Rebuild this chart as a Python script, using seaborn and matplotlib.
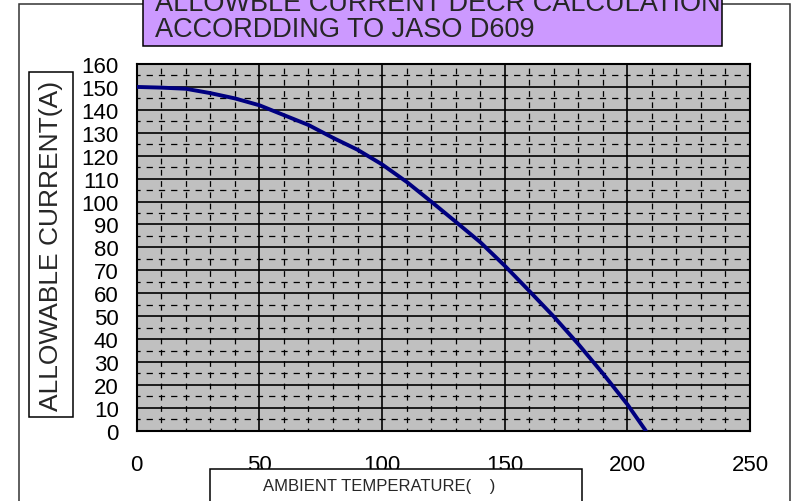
import matplotlib
matplotlib.use("Agg")
import matplotlib.pyplot as plt
from matplotlib.patches import Rectangle
from matplotlib.ticker import MultipleLocator
import pandas as pd
import seaborn as sns

# values
temperature = [0, 10, 20, 30, 40, 50, 60, 70, 80, 90, 100, 110, 120,
               130, 140, 150, 160, 170, 180, 190, 200, 207.5]
current = [150, 149.7, 149.2, 147.3, 145, 142, 137.7, 133.4, 127.8, 122.6, 116.2, 108.6, 100,
           91.2, 82.3, 72, 61, 49.8, 37.8, 25, 11.5, 0]

x_ticks = [0, 50, 100, 150, 200, 250]
y_ticks = list(range(0, 161, 10))

title_lines = ["ALLOWBLE CURRENT DECR CALCULATION", "ACCORDDING TO JASO D609"]
x_label = "AMBIENT TEMPERATURE(    )"
y_label = "ALLOWABLE CURRENT(A)"

sns.set_style("white")
plt.rcParams['font.family'] = ['Liberation Sans', 'DejaVu Sans']

df = pd.DataFrame({"temp": temperature, "current": current})

fig = plt.figure(figsize=(7.93, 5.02), dpi=100)
ax = fig.add_axes([0.1724, 0.140, 0.7734, 0.7305])
ax.set_facecolor("#C0C0C0")

sns.lineplot(data=df, x="temp", y="current", ax=ax, color="#000080",
             linewidth=2.8, zorder=5)

ax.set_xlim(0, 250)
ax.set_ylim(0, 160)
ax.set_xticks(x_ticks)
ax.set_yticks(y_ticks)
ax.xaxis.set_minor_locator(MultipleLocator(10))
ax.yaxis.set_minor_locator(MultipleLocator(5))

# major grid solid, minor grid dashed
ax.grid(which="major", color="black", linewidth=1.2, linestyle="-")
ax.yaxis.grid(which="minor", color="black", linewidth=0.9, linestyle=(2.5, (5.0, 4.8)))
ax.xaxis.grid(which="minor", color="black", linewidth=0.9, linestyle=(2.3, (4.6, 4.4)))
ax.set_axisbelow(True)

ax.tick_params(axis="both", which="both", length=0, labelsize=16, colors="black")
ax.tick_params(axis="y", pad=13)
ax.tick_params(axis="x", pad=17)
ax.set_xlabel("")
ax.set_ylabel("")
for sp in ax.spines.values():
    sp.set_color("black")
    sp.set_linewidth(1.5)

# outer chart frame
fig.add_artist(Rectangle((0.024, -0.02), 0.972, 1.01, transform=fig.transFigure,
                         facecolor="none", edgecolor="#333333", linewidth=1.1, zorder=1))

# title box (cut off at the top, as in the original)
fig.add_artist(Rectangle((0.1803, 0.9064), 0.730, 0.2, transform=fig.transFigure,
                         facecolor="#CC99FF", edgecolor="black", linewidth=1.1, zorder=2))
fig.text(0.1955, 0.978, title_lines[0], fontsize=19.5, va="baseline", ha="left", zorder=3)
fig.text(0.1955, 0.926, title_lines[1], fontsize=19.5, va="baseline", ha="left", zorder=3)

# y label box
fig.add_artist(Rectangle((0.037, 0.1673), 0.0555, 0.6867, transform=fig.transFigure,
                         facecolor="white", edgecolor="black", linewidth=1.1, zorder=2))
fig.text(0.0647, 0.5106, y_label, rotation=90, fontsize=19, ha="center", va="center", zorder=3)

# x label box (overlaps the tick labels like the original)
fig.add_artist(Rectangle((0.2648, -0.02), 0.469, 0.0837, transform=fig.transFigure,
                         facecolor="white", edgecolor="black", linewidth=1.1, zorder=2))
fig.text(0.3316, 0.030, x_label, fontsize=12, ha="left", va="center", zorder=3)

fig.savefig("out.png", dpi=100)
